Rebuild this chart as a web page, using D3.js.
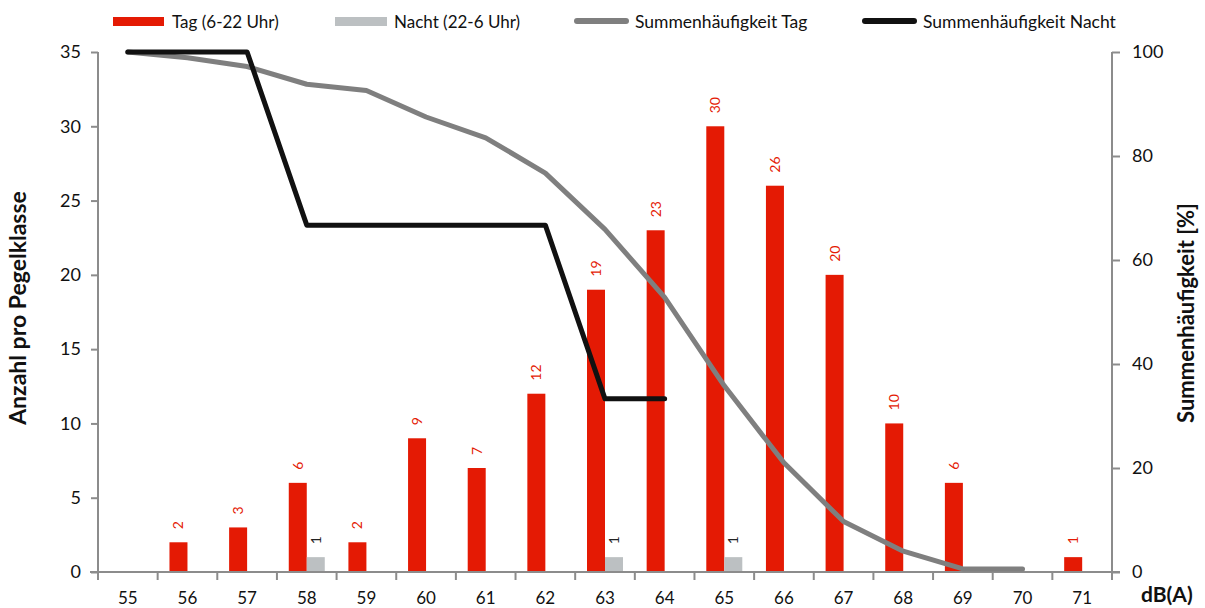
<!DOCTYPE html>
<html><head><meta charset="utf-8">
<script src="https://cdn.jsdelivr.net/npm/d3@7"></script>
<style>
body{margin:0;background:#fff;}
text{font-family:Lato,"Open Sans",sans-serif;}
</style></head>
<body><svg id="c" width="1205" height="608"></svg>
<script>
const categories = ["55","56","57","58","59","60","61","62","63","64","65","66","67","68","69","70","71"];
const tagValues = [0,2,3,6,2,9,7,12,19,23,30,26,20,10,6,0,1];
const nachtValues = [0,0,0,1,0,0,0,0,1,0,1,0,0,0,0,0,0];
const sumTag = [100,98.9,97.2,93.8,92.6,87.5,83.5,76.7,65.9,52.8,35.8,21.0,9.7,4.0,0.6,0.6];
const sumNacht = [100,100,100,66.7,66.7,66.7,66.7,66.7,33.3,33.3];
const leftTicks = [0,5,10,15,20,25,30,35];
const rightTicks = [0,20,40,60,80,100];

const svg = d3.select("#c");
const L = 98, R = 1112, T = 52, B = 572;
const axisColor = "#8c8c8c";
const red = "#e41a04", greyBar = "#bcc0c2";

const x = d3.scaleBand().domain(categories).range([L, R]).padding(0);
const yL = d3.scaleLinear().domain([0,35]).range([B, T]);
const yR = d3.scaleLinear().domain([0,100]).range([B, T]);
const bw = 18;

// bars
svg.append("g").selectAll("rect").data(categories.map((c,i)=>({c,v:tagValues[i]})).filter(d=>d.v>0))
  .join("rect").attr("x", d=>x(d.c)+x.bandwidth()/2-bw).attr("width", bw)
  .attr("y", d=>yL(d.v)).attr("height", d=>B-yL(d.v)).attr("fill", red);
svg.append("g").selectAll("rect").data(categories.map((c,i)=>({c,v:nachtValues[i]})).filter(d=>d.v>0))
  .join("rect").attr("x", d=>x(d.c)+x.bandwidth()/2).attr("width", bw)
  .attr("y", d=>yL(d.v)).attr("height", d=>B-yL(d.v)).attr("fill", greyBar);

// value labels
function labels(vals, dx, color){
  svg.append("g").selectAll("text").data(categories.map((c,i)=>({c,v:vals[i]})).filter(d=>d.v>0))
    .join("text")
    .attr("transform", d=>`translate(${x(d.c)+x.bandwidth()/2+dx+5},${yL(d.v)-13}) rotate(-90)`)
    .attr("font-size", 14).attr("fill", color).attr("text-anchor","start").text(d=>d.v);
}
labels(tagValues, -bw/2, red);
labels(nachtValues, bw/2, "#222");

// axes
const axisG = svg.append("g").attr("stroke", axisColor).attr("stroke-width", 2).attr("fill","none");
axisG.append("line").attr("x1", L).attr("x2", L).attr("y1", T).attr("y2", B);
axisG.append("line").attr("x1", R).attr("x2", R).attr("y1", T).attr("y2", B);
axisG.append("line").attr("x1", L-8).attr("x2", R+8).attr("y1", B).attr("y2", B);

const gl = svg.append("g").attr("transform", `translate(${L},0)`)
  .call(d3.axisLeft(yL).tickValues(leftTicks).tickSize(7).tickPadding(10));
const gr = svg.append("g").attr("transform", `translate(${R},0)`)
  .call(d3.axisRight(yR).tickValues(rightTicks).tickSize(8).tickPadding(12));
[gl, gr].forEach(g=>{
  g.select(".domain").remove();
  g.selectAll(".tick line").attr("stroke", axisColor).attr("stroke-width", 2);
  g.selectAll(".tick text").attr("font-size", 18).attr("fill","#111").attr("font-family","Lato,sans-serif");
});
// x ticks at band boundaries
const bounds = categories.map(c=>x(c)).concat([R]);
svg.append("g").selectAll("line").data(bounds).join("line")
  .attr("x1", d=>d).attr("x2", d=>d).attr("y1", B).attr("y2", B+8)
  .attr("stroke", axisColor).attr("stroke-width", 2);
svg.append("g").selectAll("text").data(categories).join("text")
  .attr("x", d=>x(d)+x.bandwidth()/2).attr("y", 604).attr("text-anchor","middle")
  .attr("font-size", 17).attr("fill","#111").text(d=>d);

// lines
const lineTag = d3.line().x((d,i)=>x(categories[i])+x.bandwidth()/2).y(d=>yR(d));
svg.append("path").datum(sumTag).attr("d", lineTag).attr("fill","none")
  .attr("stroke","#7f7f7f").attr("stroke-width",5).attr("stroke-linecap","round").attr("stroke-linejoin","round");
svg.append("path").datum(sumNacht).attr("d", lineTag).attr("fill","none")
  .attr("stroke","#111").attr("stroke-width",5).attr("stroke-linecap","round").attr("stroke-linejoin","round");

// axis titles
svg.append("text").attr("transform","translate(26,308) rotate(-90)").attr("text-anchor","middle")
  .attr("font-size",23).attr("font-weight","bold").attr("fill","#111").text("Anzahl pro Pegelklasse");
svg.append("text").attr("transform","translate(1194,313) rotate(-90)").attr("text-anchor","middle")
  .attr("font-size",22).attr("font-weight","bold").attr("fill","#111").text("Summenhäufigkeit [%]");
svg.append("text").attr("x",1141).attr("y",602).attr("font-size",21).attr("font-weight","bold")
  .attr("fill","#111").text("dB(A)");

// legend
const leg = svg.append("g");
leg.append("rect").attr("x",113).attr("y",17).attr("width",51).attr("height",9).attr("fill",red);
leg.append("text").attr("x",172).attr("y",28).attr("font-size",17).attr("fill","#111").text("Tag (6-22 Uhr)");
leg.append("rect").attr("x",335).attr("y",17).attr("width",52).attr("height",9).attr("fill",greyBar);
leg.append("text").attr("x",394).attr("y",28).attr("font-size",17).attr("fill","#111").text("Nacht (22-6 Uhr)");
leg.append("line").attr("x1",577).attr("x2",626).attr("y1",21).attr("y2",21).attr("stroke","#7f7f7f").attr("stroke-width",6).attr("stroke-linecap","round");
leg.append("text").attr("x",635).attr("y",28).attr("font-size",17.5).attr("fill","#111").text("Summenhäufigkeit Tag");
leg.append("line").attr("x1",865).attr("x2",914).attr("y1",21).attr("y2",21).attr("stroke","#111").attr("stroke-width",6).attr("stroke-linecap","round");
leg.append("text").attr("x",923).attr("y",28).attr("font-size",17.5).attr("fill","#111").text("Summenhäufigkeit Nacht");
</script></body></html>
